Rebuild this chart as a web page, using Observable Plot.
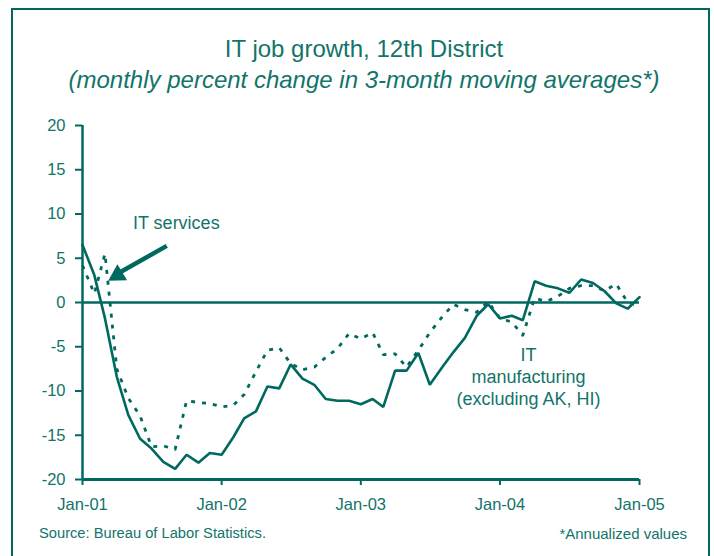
<!DOCTYPE html>
<html>
<head>
<meta charset="utf-8">
<script src="https://cdn.jsdelivr.net/npm/d3@7"></script>
<script src="https://cdn.jsdelivr.net/npm/@observablehq/plot@0.6"></script>
<style>
  html, body { margin: 0; padding: 0; background: #fff; width: 714px; height: 556px; overflow: hidden; }
  body { position: relative; font-family: "Liberation Sans", Arial, sans-serif; color: #12746a; }
  #frame { position: absolute; left: 11px; top: 8px; width: 695px; height: 600px; border: 2px solid #00695f; }
  .t { position: absolute; left: 7px; width: 714px; text-align: center; line-height: 1; white-space: nowrap; }
  #title { top: 37px; font-size: 24px; }
  #subtitle { top: 68px; font-size: 24px; font-style: italic; }
  #chart { position: absolute; left: 0; top: 110px; }
  .foot { position: absolute; top: 526px; font-size: 14.7px; line-height: 1; white-space: nowrap; }
  #source { left: 39px; }
  #note { right: 27px; font-size: 15px; }
</style>
</head>
<body>
<div id="frame"></div>
<div class="t" id="title">IT job growth, 12th District</div>
<div class="t" id="subtitle">(monthly percent change in 3-month moving averages*)</div>
<div id="chart"></div>
<div class="foot" id="source">Source: Bureau of Labor Statistics.</div>
<div class="foot" id="note">*Annualized values</div>
<script>
// Monthly series, Jan-2001 .. Jan-2005 (49 months), % change, annualized
const startYear = 2001;
const manufacturing = [
  6.5, 3.1, -1.8, -8.4, -12.7, -15.4, -16.5, -18.0, -18.8, -17.2, -18.1, -17.0,
  -17.2, -15.2, -13.1, -12.3, -9.5, -9.7, -7.0, -8.6, -9.3, -10.9, -11.1, -11.1,
  -11.5, -10.9, -11.8, -7.7, -7.7, -5.7, -9.3, -7.4, -5.6, -4.0, -1.5, -0.2,
  -1.8, -1.5, -2.0, 2.4, 1.9, 1.6, 1.1, 2.6, 2.2, 1.3, -0.1, -0.7,
  0.6
];
const services = [
  4.2, 1.0, 5.5, -7.5, -10.8, -12.8, -16.3, -16.2, -16.6, -11.1, -11.3, -11.4,
  -11.8, -11.6, -10.4, -7.8, -5.4, -5.1, -6.9, -7.6, -7.3, -6.2, -5.2, -3.5,
  -4.1, -3.4, -5.9, -5.8, -7.3, -5.4, -3.4, -1.7, -0.2, -0.8, -1.1, 0.1,
  -1.8, -2.2, -3.7, 0.5, 0.1, 0.7, 1.6, 1.9, 1.9, 1.3, 2.1, 0.0,
  -0.4
];
const yTicks = [-20, -15, -10, -5, 0, 5, 10, 15, 20];
const xTickYears = [2001, 2002, 2003, 2004, 2005];
const xTickLabels = ["Jan-01", "Jan-02", "Jan-03", "Jan-04", "Jan-05"];

// annotations (data coordinates)
const servicesLabel = {date: [2001, 8, 4], value: 9.0, text: "IT services"};
const servicesArrow = {from: [2001, 7, 10], fromValue: 6.4, to: [2001, 3, 5], toValue: 3.3};
const arrowTip = {date: [2001, 3, 3], value: 3.1};
const manufLabel = {date: [2004, 2, 16], value: -8.3, text: "IT\nmanufacturing\n(excluding AK, HI)"};

const LINE = "#00695f";
const TEXT = "#12746a";
const d = (a) => new Date(Date.UTC(a[0], a[1], a[2]));
const monthDate = (i) => new Date(Date.UTC(startYear, i, 1));

const rows = (arr) => arr.map((v, i) => ({date: monthDate(i), value: v}));
const manufRows = rows(manufacturing);
const servRows = rows(services);
const xTicks = xTickYears.map(y => new Date(Date.UTC(y, 0, 1)));
const xDomain = [xTicks[0], xTicks[xTicks.length - 1]];

const chart = Plot.plot({
  width: 714,
  height: 410,
  marginLeft: 82,
  marginRight: 75,
  marginTop: 15,
  marginBottom: 41,
  style: {fontFamily: "'Liberation Sans', Arial, sans-serif", fontSize: "16px", color: LINE, background: "transparent", overflow: "visible"},
  x: {type: "utc", domain: xDomain},
  y: {domain: [yTicks[0], yTicks[yTicks.length - 1]]},
  marks: [
    Plot.axisY({ticks: yTicks, tickSize: 7, tickPadding: 10, tickFormat: v => String(v), label: null, stroke: LINE, strokeWidth: 2, fill: TEXT, fontSize: 16.5}),
    Plot.axisX({ticks: xTicks, tickSize: 6, tickPadding: 13, tickFormat: (v, i) => xTickLabels[i], label: null, stroke: LINE, strokeWidth: 2, fill: TEXT, fontSize: 16.5}),
    Plot.ruleX([xDomain[0]], {y1: yTicks[0], y2: yTicks[yTicks.length - 1], stroke: LINE, strokeWidth: 2.5}),
    Plot.ruleY([yTicks[0]], {stroke: LINE, strokeWidth: 3}),
    Plot.ruleY([0], {stroke: LINE, strokeWidth: 2.5}),
    Plot.line(servRows, {x: "date", y: "value", stroke: LINE, strokeWidth: 2.8, strokeDasharray: "4,7", strokeLinecap: "butt"}),
    Plot.line(manufRows, {x: "date", y: "value", stroke: LINE, strokeWidth: 2.6, strokeLinejoin: "miter"}),
    Plot.link([servicesArrow], {x1: a => d(a.from), y1: "fromValue", x2: a => d(a.to), y2: "toValue", stroke: LINE, strokeWidth: 4.5}),
    Plot.dot([arrowTip], {x: a => d(a.date), y: "value", symbol: "triangle", r: 7, fill: LINE, stroke: "none", rotate: 239}),
    Plot.text([servicesLabel], {x: a => d(a.date), y: "value", text: "text", fill: TEXT, fontSize: 18}),
    Plot.text([manufLabel], {x: a => d(a.date), y: "value", text: "text", fill: TEXT, fontSize: 18, lineHeight: 1.22})
  ]
});
document.getElementById("chart").appendChild(chart);
</script>
</body>
</html>
